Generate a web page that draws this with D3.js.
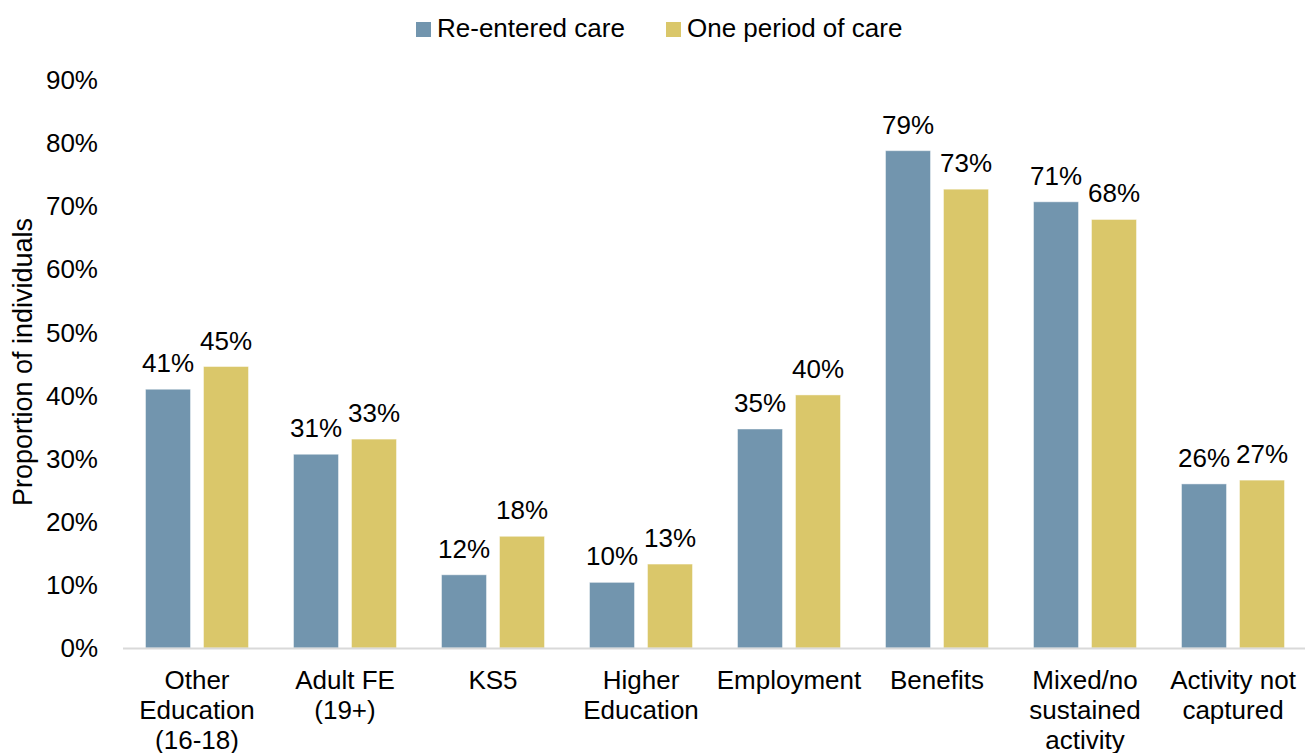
<!DOCTYPE html>
<html><head><meta charset="utf-8">
<script src="https://cdn.jsdelivr.net/npm/d3@7"></script>
<style>body{margin:0;background:#fff;} text{font-family:"Liberation Sans",Arial,sans-serif;fill:#000;}</style>
</head><body>
<svg id="c" width="1305" height="753"></svg>
<script>
const categories = [["Other","Education","(16-18)"],["Adult FE","(19+)"],["KS5"],["Higher","Education"],["Employment"],["Benefits"],["Mixed/no","sustained","activity"],["Activity not","captured"]];
const seriesNames = ["Re-entered care","One period of care"];
const reentered = [41.0,30.7,11.6,10.4,34.7,78.8,70.7,26.0];
const onePeriod = [44.6,33.1,17.7,13.3,40.1,72.7,67.9,26.6];
const yTicks = [0,10,20,30,40,50,60,70,80,90];
const colors = ["#7295ae","#dac76a"];

const svg = d3.select("#c");
const x0 = d3.scaleBand().domain(d3.range(categories.length)).range([123,1307]).paddingInner(0).paddingOuter(0);
const x1 = d3.scaleBand().domain([0,1]).range([22.5,125.5]).paddingInner(0.224);
const y = d3.scaleLinear().domain([0,90]).range([648,80]);
const fs = 26;

// y tick labels
svg.append("g").selectAll("text").data(yTicks).join("text")
  .attr("x",98).attr("y",d=>y(d)).attr("dy","0.35em").attr("text-anchor","end")
  .style("font-size",fs+"px").text(d=>d+"%");

// y title
svg.append("text").attr("transform","translate(32,362) rotate(-90)").attr("text-anchor","middle")
  .style("font-size","27px").text("Proportion of individuals");

const data = [reentered, onePeriod];
const g = svg.append("g");
categories.forEach((c,i)=>{
  [0,1].forEach(s=>{
    const v = data[s][i];
    const bx = x0(i)+x1(s);
    g.append("rect").attr("x",bx).attr("y",y(v)).attr("width",x1.bandwidth()).attr("height",y(0)-y(v))
      .attr("fill",colors[s]).attr("stroke","rgba(255,255,255,0.45)").attr("stroke-width",1);
    g.append("text").attr("x",bx+x1.bandwidth()/2).attr("y",y(v)-17).attr("text-anchor","middle")
      .style("font-size",fs+"px").text(Math.round(v)+"%");
  });
});

// axis line
svg.append("line").attr("x1",123).attr("x2",1305).attr("y1",y(0)+0.5).attr("y2",y(0)+0.5)
  .attr("stroke","#d9d9d9").attr("stroke-width",2);

// category labels
categories.forEach((c,i)=>{
  const t = svg.append("text").attr("text-anchor","middle").style("font-size",fs+"px");
  c.forEach((line,j)=>{
    t.append("tspan").attr("x",x0(i)+x0.bandwidth()/2).attr("y",689+j*30).text(line);
  });
});

// legend
const leg = [{x:416,tx:437},{x:666,tx:687}];
leg.forEach((l,i)=>{
  svg.append("rect").attr("x",l.x).attr("y",22).attr("width",15).attr("height",15).attr("fill",colors[i]);
  svg.append("text").attr("x",l.tx).attr("y",37).style("font-size",fs+"px").text(seriesNames[i]);
});
</script>
</body></html>
